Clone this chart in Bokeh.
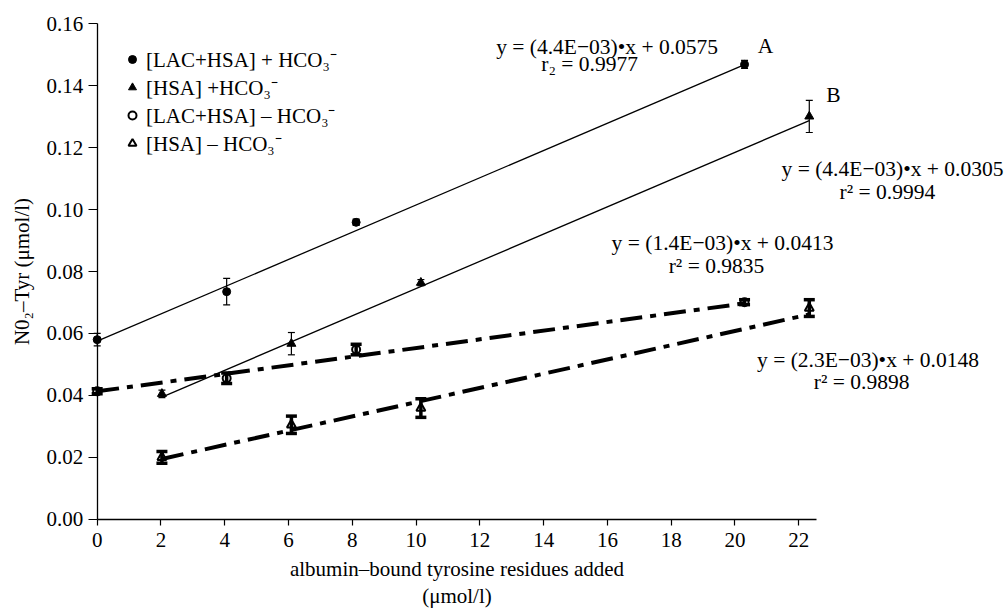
from bokeh.plotting import figure
from bokeh.models import (Range1d, ColumnDataSource, Whisker, TeeHead, Label, Legend,
                          LegendItem, NumeralTickFormatter, FixedTicker)
from bokeh.embed import file_html
from bokeh.resources import INLINE

# ---------------- data ----------------
series_names = ["[LAC+HSA] + HCO₃⁻", "[HSA] +HCO₃⁻", "[LAC+HSA] – HCO₃⁻", "[HSA] – HCO₃⁻"]

x_lac = [0.0, 4.06, 8.12, 20.3]
x_hsa = [2.03, 6.09, 10.15, 22.33]

y_lac_plus = [0.0580, 0.0735, 0.0959, 0.1469]
e_lac_plus = [0.0020, 0.0043, 0.0010, 0.0013]
y_hsa_plus = [0.0405, 0.0567, 0.0764, 0.1301]
e_hsa_plus = [0.0012, 0.0036, 0.0010, 0.0052]
y_lac_minus = [0.0413, 0.0455, 0.0548, 0.0701]
e_lac_minus = [0.0008, 0.0017, 0.0017, 0.0008]
y_hsa_minus = [0.0200, 0.0305, 0.0359, 0.0682]
e_hsa_minus = [0.0019, 0.0028, 0.0030, 0.0027]

slopes = [4.4e-3, 4.4e-3, 1.4e-3, 2.3e-3]
intercepts = [0.0575, 0.0305, 0.0413, 0.0148]
r_texts = ["r₂ = 0.9977", "r² = 0.9994", "r² = 0.9835", "r² = 0.9898"]
line_tags = ["A", "B"]

x_ticks = [0, 2, 4, 6, 8, 10, 12, 14, 16, 18, 20, 22]
y_ticks = [0.00, 0.02, 0.04, 0.06, 0.08, 0.10, 0.12, 0.14, 0.16]
x_axis_span = (0, 22.55)
y_axis_span = (0.0, 0.16)

FONT = "Liberation Serif"
FS = "21px"
FS_NOTE = "21.5px"

# ---------------- figure ----------------
# the plotting frame covers the whole canvas; the axes are pinned at 0
p = figure(width=1008, height=608, output_backend="svg", toolbar_location=None,
           x_range=Range1d(-3.032, 28.577), y_range=Range1d(-0.02884, 0.16754),
           min_border=0, min_border_left=0, min_border_right=0,
           min_border_top=0, min_border_bottom=0)
p.grid.visible = False
p.outline_line_color = None

for ax in (p.xaxis[0], p.yaxis[0]):
    ax.fixed_location = 0
    ax.major_label_text_font = FONT
    ax.major_label_text_font_size = FS
    ax.major_label_text_color = "black"
    ax.axis_label_text_font = FONT
    ax.axis_label_text_font_size = FS
    ax.axis_label_text_font_style = "normal"
    ax.axis_label_text_color = "black"
    ax.minor_tick_line_color = None
    ax.major_tick_in = 0
    ax.axis_line_color = "black"
    ax.axis_line_width = 1.3
    ax.major_tick_line_color = "black"
    ax.major_tick_line_width = 1.2

p.xaxis.bounds = x_axis_span
p.yaxis.bounds = y_axis_span
p.xaxis.major_tick_out = 6
p.yaxis.major_tick_out = 9
p.xaxis.major_label_standoff = 8
p.yaxis.major_label_standoff = 5
p.xaxis.ticker = FixedTicker(ticks=x_ticks)
p.yaxis.ticker = FixedTicker(ticks=y_ticks)
p.yaxis.formatter = NumeralTickFormatter(format="0.00")
p.xaxis.axis_label = "albumin–bound tyrosine residues added\n(μmol/l)"
p.xaxis.axis_label_standoff = 6
p.xaxis.axis_label_text_line_height = 1.15
p.yaxis.axis_label = "N0₂–Tyr (μmol/l)"
p.yaxis.axis_label_standoff = 10

# ---------------- series ----------------
series = [
    (x_lac, y_lac_plus, e_lac_plus),
    (x_hsa, y_hsa_plus, e_hsa_plus),
    (x_lac, y_lac_minus, e_lac_minus),
    (x_hsa, y_hsa_minus, e_hsa_minus),
]

# regression lines
for i, (xs, ys, es) in enumerate(series):
    xf = [min(xs), max(xs)]
    yf = [slopes[i] * v + intercepts[i] for v in xf]
    if i < 2:
        p.line(xf, yf, line_color="black", line_width=1.3)
    else:
        p.line(xf, yf, line_color="black", line_width=4, line_dash="22 8 6 8")

# error bars
for i, (xs, ys, es) in enumerate(series):
    src = ColumnDataSource(dict(x=xs,
                                upper=[y + e for y, e in zip(ys, es)],
                                lower=[y - e for y, e in zip(ys, es)]))
    if i < 2:
        lw, hs = 1.2, 7
    else:
        lw, hs = 3.5, 11
    w = Whisker(source=src, base="x", upper="upper", lower="lower",
                line_color="black", line_width=lw,
                upper_head=TeeHead(size=hs, line_width=lw, line_color="black"),
                lower_head=TeeHead(size=hs, line_width=lw, line_color="black"))
    p.add_layout(w)

# markers
rA = p.scatter(x_lac, y_lac_plus, marker="circle", size=8, color="black")
rB = p.scatter(x_hsa, y_hsa_plus, marker="triangle", size=9, color="black")
rC = p.scatter(x_lac, y_lac_minus, marker="circle", size=8, line_color="black",
               fill_color=None, line_width=2)
rD = p.scatter(x_hsa, y_hsa_minus, marker="triangle", size=9, line_color="black",
               fill_color=None, line_width=2)

legend = Legend(items=[LegendItem(label=series_names[k], renderers=[r])
                       for k, r in enumerate([rA, rB, rC, rD])],
                location=(118, 451), margin=0, padding=0,
                glyph_width=28, glyph_height=20, label_height=20, label_standoff=0,
                spacing=0, label_text_font=FONT, label_text_font_size=FS,
                label_text_color="black",
                background_fill_alpha=0, border_line_color=None)
p.add_layout(legend)

# ---------------- annotations ----------------
def add_text(text, x, y):
    p.add_layout(Label(x=x, y=y, text=text, text_align="center", text_baseline="middle",
                       text_font=FONT, text_font_size=FS_NOTE, text_color="black"))

eq_pos = [(15.99, 0.1524), (24.94, 0.1132), (19.61, 0.0891), (24.17, 0.0513)]
r_pos = [(15.44, 0.1469), (24.78, 0.1056), (19.42, 0.0819), (23.97, 0.0443)]
for i in range(4):
    mant = slopes[i] / 1e-3
    eq = f"y = ({mant:.1f}E−03)•x + {intercepts[i]:.4f}"
    add_text(eq, *eq_pos[i])
    add_text(r_texts[i], *r_pos[i])

add_text(line_tags[0], 20.96, 0.1530)
add_text(line_tags[1], 23.09, 0.1369)

open("out.html", "w").write(file_html(p, INLINE))
